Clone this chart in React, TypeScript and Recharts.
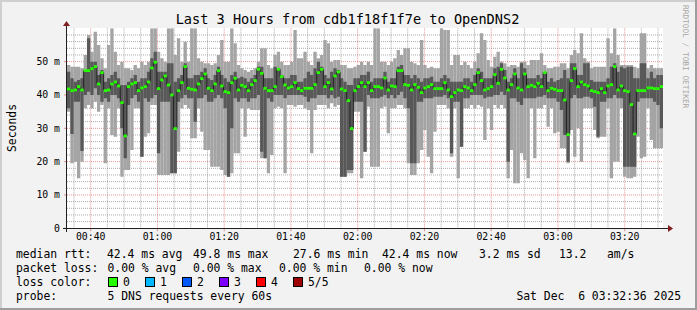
import React from 'react'
import { ComposedChart, Bar, Line, XAxis, YAxis, CartesianGrid } from 'recharts'

// one value per 60 s step; the first step starts at about 00:33
const firstMinute = 32.9
const minRtt = [
  35, 19.5, 20, 15, 20, 36, 37, 36, 38, 35,
  37, 19.5, 36, 28, 27.5, 36, 15.5, 17.5, 17.5, 23.5,
  36, 36, 21.5, 27.5, 28.5, 37, 37, 16, 16, 16,
  16, 16.5, 16.5, 23, 36, 37, 36, 27, 27, 36,
  29, 23.5, 23.5, 18.5, 18.5, 18.5, 17.5, 16, 15.5, 16.5,
  22.5, 22.5, 36, 27.5, 36, 35.5, 35.5, 35.5, 21, 21,
  16.5, 22, 36, 36.5, 36, 16.5, 37, 37, 36.5, 37,
  37, 36, 35.5, 22.5, 35.5, 37, 37, 37, 36, 37.5,
  36.5, 37, 15.5, 15.5, 16.5, 16.5, 35, 35, 15, 23,
  36.5, 18.5, 18.5, 18.5, 36, 36.5, 28.5, 36, 36, 37,
  37, 36, 19.5, 16, 16, 19.5, 23.5, 29.5, 21.5, 16.5,
  29, 37, 37, 37, 36, 21.5, 36, 15, 24.5, 36,
  36, 37, 36, 37, 36.5, 26.5, 36, 29.5, 37, 36,
  37, 36, 15, 23.5, 13.5, 13.5, 22.5, 20.5, 15, 36,
  21, 36, 36, 37, 30.5, 36, 28.5, 29, 24, 24,
  19.5, 29.5, 21.5, 30, 20, 36, 36, 36, 29.5, 27,
  27.5, 27.5, 36, 15, 20, 20, 36, 15.5, 15, 15,
  15.5, 27.5, 21, 21.5, 36, 26.5, 24, 24, 24,
]

const lowRtt = [
  36, 28.3, 38, 38, 23.2, 40, 41, 40, 42, 40,
  38, 39, 38, 40, 40, 39, 30, 21, 37, 39,
  40, 38, 21.5, 39, 38, 39, 40, 22.5, 38, 38,
  38, 16.5, 16.5, 38, 39, 40, 39, 39, 32, 39,
  39, 40, 38, 38, 39, 40, 39, 36, 15.5, 30,
  39, 38, 39, 39, 38, 39, 39, 40, 23, 21,
  39, 38, 40, 40, 40, 39, 40, 40, 40, 40,
  40, 39.5, 38, 39, 39, 40, 40, 40, 39, 40,
  39, 39.5, 15.5, 15.5, 17.5, 17.5, 38, 38, 38, 23,
  40, 39, 39, 39, 39.5, 40, 39, 40, 39, 40,
  41, 39, 36, 19.5, 19.5, 38, 38, 39, 39, 39,
  39.5, 39.5, 39.5, 40, 39, 22.5, 38, 38, 24.5, 39,
  39, 40, 40, 40, 40, 39, 39.5, 39.5, 40, 40,
  41, 40, 20, 39, 39, 38, 37, 39, 39, 39,
  39, 39.5, 39.5, 40, 39, 39, 39, 38, 35.5, 28,
  20, 39, 40, 39, 39, 39.5, 39.5, 39, 36.5, 27.5,
  38, 38, 39, 39, 40, 39, 39, 18.5, 18.5, 18.5,
  18.5, 38, 39, 39, 39, 39, 38, 37, 30,
]

const medianRtt = [
  41.8, 41.3, 41.5, 42.5, 41.5, 47.3, 47.3, 47.9, 48.5, 43.3,
  46.7, 41.3, 41.5, 43.3, 43.9, 42.7, 37.7, 27.7, 42.5, 43.3,
  43.7, 41.3, 42.1, 42.5, 43.9, 48.1, 49.8, 41.9, 44.5, 45.7,
  43.0, 40.0, 29.9, 41.3, 43.7, 48.5, 42.0, 41.7, 41.5, 43.3,
  44.9, 46.3, 42.0, 41.3, 43.3, 47.3, 42.7, 41.0, 40.7, 43.7,
  45.0, 41.5, 42.9, 42.5, 41.3, 43.1, 44.3, 47.7, 46.5, 42.0,
  41.3, 41.3, 42.5, 47.7, 45.5, 43.0, 42.1, 42.5, 43.7, 41.9,
  41.3, 42.0, 42.0, 42.0, 43.1, 46.7, 47.7, 42.5, 43.7, 41.8,
  45.7, 46.9, 41.8, 41.3, 38.3, 29.9, 41.3, 42.5, 43.7, 42.5,
  43.7, 41.3, 42.5, 42.5, 42.1, 45.1, 41.5, 42.7, 42.5, 47.3,
  47.3, 43.1, 42.9, 41.5, 43.1, 42.3, 40.7, 42.1, 42.5, 43.1,
  41.9, 41.9, 41.9, 43.7, 41.5, 39.5, 40.7, 41.5, 41.3, 42.5,
  42.1, 41.3, 43.1, 46.7, 44.3, 41.5, 41.9, 42.5, 46.1, 43.5,
  47.7, 45.1, 41.5, 43.1, 46.3, 42.1, 41.5, 46.3, 42.5, 42.9,
  42.5, 43.5, 42.5, 46.7, 41.3, 42.0, 41.7, 41.3, 41.3, 38.5,
  28.1, 44.3, 47.9, 42.5, 43.9, 43.1, 42.7, 41.3, 41.0, 40.7,
  41.9, 40.7, 42.7, 43.1, 48.5, 41.5, 42.7, 41.3, 41.0, 37.1,
  28.3, 41.3, 41.3, 41.3, 42.1, 42.1, 41.9, 41.9, 42.5,
]

const highRtt = [
  47, 45, 44, 44.5, 45, 47.5, 57, 50, 50, 46,
  47.5, 44, 45, 46, 47, 45, 43, 43, 44, 45,
  46, 44, 45, 45, 47, 51, 53, 47, 47, 47,
  49.5, 49.5, 44, 45, 46, 49.5, 45, 45, 46, 46,
  47, 48, 45, 44.5, 46, 48.5, 46, 45, 44, 46,
  47, 45, 45.5, 45, 44, 45, 46, 48.5, 48.5, 45,
  45, 45, 48.5, 48, 46, 45, 45, 46, 46, 44,
  44, 45, 47, 46, 48, 50, 48.5, 46, 45, 47,
  48, 47.5, 45, 44, 43, 43, 45, 45, 46, 46,
  47, 44, 45, 45, 45, 47, 44, 45, 45, 48.5,
  49, 46, 46, 45, 46, 45, 44, 45, 45, 45.5,
  44, 44, 45, 46, 45, 44, 44, 44, 44, 45,
  45, 44, 46, 48, 47, 45, 45, 45, 48, 48.5,
  49.5, 47.5, 44, 45, 48, 45, 49.5, 48, 45, 45,
  45, 46, 45, 46.8, 44, 45, 44, 44.5, 45, 47.5,
  45, 49.5, 49.5, 46, 46, 49.5, 49.5, 44.5, 44, 44,
  44, 44, 45, 48.5, 49.5, 47, 48.5, 48, 48.5, 48.5,
  45, 45, 49.5, 49.5, 45, 47, 45, 46, 46,
]

const maxRtt = [
  49, 48.5, 48.5, 48.5, 48, 52, 58, 53, 59, 55,
  51, 48, 55, 60, 53, 49, 50, 48, 48, 47.5,
  49, 48, 50, 49, 50, 60, 60, 53, 51, 50,
  60, 60, 52, 57, 50, 56, 50, 60, 60, 51,
  50, 49.5, 49.5, 49, 49.5, 52, 56.5, 50, 50, 60,
  55.5, 49, 48, 47.5, 47, 47.5, 48, 50, 54, 54,
  49, 48, 52, 53, 50, 49, 49, 50, 59.5, 51,
  51, 53, 50, 49, 53, 51, 52, 56.5, 55.5, 50,
  50.5, 50.5, 49, 49, 48, 48, 48.5, 49, 50, 49,
  50, 49, 60, 60, 50, 50, 49, 50, 51, 53.5,
  52, 54, 54, 50, 49.5, 49, 56.5, 49, 48, 48.5,
  48, 48, 60, 59.5, 59.5, 49, 52, 52, 49, 50,
  49, 48, 50, 52.5, 58.5, 56.5, 50.5, 48.5, 51.5, 53,
  50, 49.5, 48.5, 49, 49, 48.5, 50, 50, 49, 50.5,
  50.5, 50.5, 52.5, 49, 48, 48, 48.5, 48.5, 49.5, 49.5,
  48, 52, 53.5, 52.5, 58.5, 51, 50, 48, 48.5, 48.5,
  48.5, 48.5, 57, 52.5, 60, 52, 49, 49, 49, 49,
  48.5, 48, 58.5, 58.5, 48, 49, 48, 48, 48,
]

// minutes after midnight
const timeTicks = [40, 60, 80, 100, 120, 140, 160, 180, 200]
const rttTicks = [0, 10, 20, 30, 40, 50]

const rttStats = ['42.4 ms avg', '49.8 ms max', '27.6 ms min', '42.4 ms now', '3.2 ms sd', '13.2', 'am/s']
const lossStats = ['0.00 % avg', '0.00 % max', '0.00 % min', '0.00 % now']
const lossLabels = ['0', '1', '2', '3', '4', '5/5']
const lossFills = ['#26ff00', '#00b8ff', '#0059ff', '#7e00ff', '#ff0000', '#a10000']

const W = 697
const H = 310
const PLOT_LEFT = 67
const PLOT_RIGHT = 663
const PLOT_TOP = 28.3
const PLOT_BOTTOM = 228.3
const STEP_W = (PLOT_RIGHT - PLOT_LEFT) / medianRtt.length
const PX_PER_MIN = 3.3375

const mono = '"DejaVu Sans Mono", monospace'
const c = {
  back: '#f2f2f2',
  shadeA: '#cfcfcf',
  shadeB: '#9e9e9e',
  grid: 'rgba(143,143,143,0.75)',
  mgrid: 'rgba(222,79,79,0.6)',
  arrow: '#801f1f',
  axis: '#1f1f1f',
  smoke: '#a4a4a4',
  core: '#585858',
  median: '#202020',
}

const data = medianRtt.map((m, i) => ({
  step: i,
  t: firstMinute + i + 0.5,
  smoke: [minRtt[i], maxRtt[i]],
  core: [lowRtt[i], highRtt[i]],
  median: m,
}))

const timeDomain = [firstMinute, firstMinute + (PLOT_RIGHT - PLOT_LEFT) / PX_PER_MIN]

const minorTime: number[] = []
for (let m = 35; m <= 210; m += 5) if (m % 20 !== 0) minorTime.push(m)
const minorRtt: number[] = []
for (let v = 2; v <= 58; v += 2) if (v % 10 !== 0) minorRtt.push(v)

const fmtTime = (m: number) =>
  `${String(Math.floor(m / 60)).padStart(2, '0')}:${String(m % 60).padStart(2, '0')}`

const MedianMark = (props: any) => {
  const { cx, cy, index } = props
  if (cx == null || cy == null) return <g key={`mm${index}`} />
  return (
    <rect key={`mm${index}`} x={cx - STEP_W / 2} y={cy - 1.4} width={STEP_W} height={2.8} fill={lossFills[0]} />
  )
}

const rttX = [107, 193, 293, 382, 479, 559, 607]
const lossX = [107.5, 193, 279, 364]
const boxX = [108, 145, 182, 219, 256, 293]

export default function App() {
  const txt = { fontFamily: mono, fontSize: 11.4, fill: '#000' }
  return (
    <div style={{ position: 'relative', width: W, height: H, background: c.back, overflow: 'hidden' }}>
      <style>{'body{margin:0}'}</style>
      <div
        style={{
          position: 'absolute',
          left: PLOT_LEFT,
          top: PLOT_TOP,
          width: PLOT_RIGHT - PLOT_LEFT,
          height: PLOT_BOTTOM - PLOT_TOP,
          background: '#fff',
        }}
      />
      <div style={{ position: 'absolute', left: 0, top: 0 }}>
        <ComposedChart
          width={W}
          height={H}
          data={data}
          margin={{ top: PLOT_TOP, right: W - PLOT_RIGHT, bottom: H - PLOT_BOTTOM - 20, left: 0 }}
        >
          <XAxis
            xAxisId="time"
            dataKey="t"
            type="number"
            domain={timeDomain}
            allowDataOverflow
            ticks={timeTicks}
            interval={0}
            tickFormatter={fmtTime}
            height={20}
            axisLine={false}
            tickLine={{ stroke: c.mgrid }}
            tickSize={3}
            tickMargin={2}
            tick={{ fontFamily: mono, fontSize: 9.8, fill: '#000' }}
          />
          <XAxis xAxisId="smoke" dataKey="step" type="category" scale="band" height={0} hide />
          <XAxis xAxisId="core" dataKey="step" type="category" scale="band" height={0} hide />
          <YAxis
            type="number"
            domain={[0, 60]}
            allowDataOverflow
            ticks={rttTicks}
            interval={0}
            width={PLOT_LEFT}
            tickFormatter={(v: number) => (v === 0 ? '0' : `${v} m`)}
            axisLine={false}
            tickLine={{ stroke: c.mgrid }}
            tickSize={3}
            tickMargin={4}
            tick={{ fontFamily: mono, fontSize: 9.8, fill: '#000' }}
          />
          <Bar xAxisId="smoke" dataKey="smoke" fill={c.smoke} barSize={STEP_W - 0.02} isAnimationActive={false} />
          <Bar xAxisId="core" dataKey="core" fill={c.core} barSize={STEP_W - 0.02} isAnimationActive={false} />
          <Line
            xAxisId="smoke"
            dataKey="median"
            type="step"
            stroke={c.median}
            strokeWidth={1}
            dot={MedianMark}
            activeDot={false}
            isAnimationActive={false}
          />
          <CartesianGrid
            xAxisId="time"
            horizontalValues={minorRtt}
            verticalValues={minorTime}
            stroke={c.grid}
            strokeDasharray="1 1"
          />
          <CartesianGrid
            xAxisId="time"
            horizontalValues={rttTicks.filter((v) => v > 0)}
            verticalValues={timeTicks}
            stroke={c.mgrid}
            strokeDasharray="1 1"
          />
        </ComposedChart>
      </div>
      <svg
        width={W}
        height={H}
        style={{ position: 'absolute', left: 0, top: 0, pointerEvents: 'none' }}
        xmlSpace="preserve"
      >
        <rect x={0} y={0} width={W} height={2} fill={c.shadeA} />
        <rect x={0} y={0} width={2} height={H} fill={c.shadeA} />
        <rect x={0} y={H - 2} width={W} height={2} fill={c.shadeB} />
        <rect x={W - 2} y={0} width={2} height={H} fill={c.shadeB} />

        <line x1={63} y1={228.5} x2={668} y2={228.5} stroke={c.axis} />
        <line x1={66.5} y1={232} x2={66.5} y2={25} stroke={c.axis} />
        <polygon points="668,225 673,228.5 668,232" fill={c.arrow} />
        <polygon points="63,26 66.5,21 70,26" fill={c.arrow} />

        <text x={347.5} y={23.5} textAnchor="middle" style={{ fontFamily: mono, fontSize: 13.6 }}>
          Last 3 Hours from cdb1f18f1f7e to OpenDNS2
        </text>
        <text
          x={15.5}
          y={128}
          textAnchor="middle"
          transform="rotate(-90, 15.5, 128)"
          style={{ fontFamily: mono, fontSize: 11.4 }}
        >
          Seconds
        </text>
        <text
          x={683}
          y={5}
          transform="rotate(90, 683, 5)"
          style={{ fontFamily: mono, fontSize: 7.8, fill: '#a8a8a8' }}
        >
          RRDTOOL / TOBI OETIKER
        </text>

        <text x={16} y={258} style={txt}>median rtt:</text>
        {rttStats.map((s, i) => (
          <text key={s + i} x={rttX[i]} y={258} style={txt}>{s}</text>
        ))}
        <text x={16} y={272} style={txt}>packet loss:</text>
        {lossStats.map((s, i) => (
          <text key={s + i} x={lossX[i]} y={272} style={txt}>{s}</text>
        ))}
        <text x={16} y={286} style={txt}>loss color:</text>
        {lossLabels.map((s, i) => (
          <g key={s}>
            <rect x={boxX[i] + 0.5} y={277.5} width={9} height={9} fill={lossFills[i]} stroke="#000" strokeWidth={1} />
            <text x={boxX[i] + 15} y={286} style={txt}>{s}</text>
          </g>
        ))}
        <text x={16} y={300} style={txt}>probe:</text>
        <text x={107.5} y={300} style={txt}>5 DNS requests every 60s</text>
        <text x={681} y={300} textAnchor="end" style={{ ...txt, whiteSpace: 'pre' }}>
          Sat Dec  6 03:32:36 2025
        </text>
      </svg>
    </div>
  )
}
